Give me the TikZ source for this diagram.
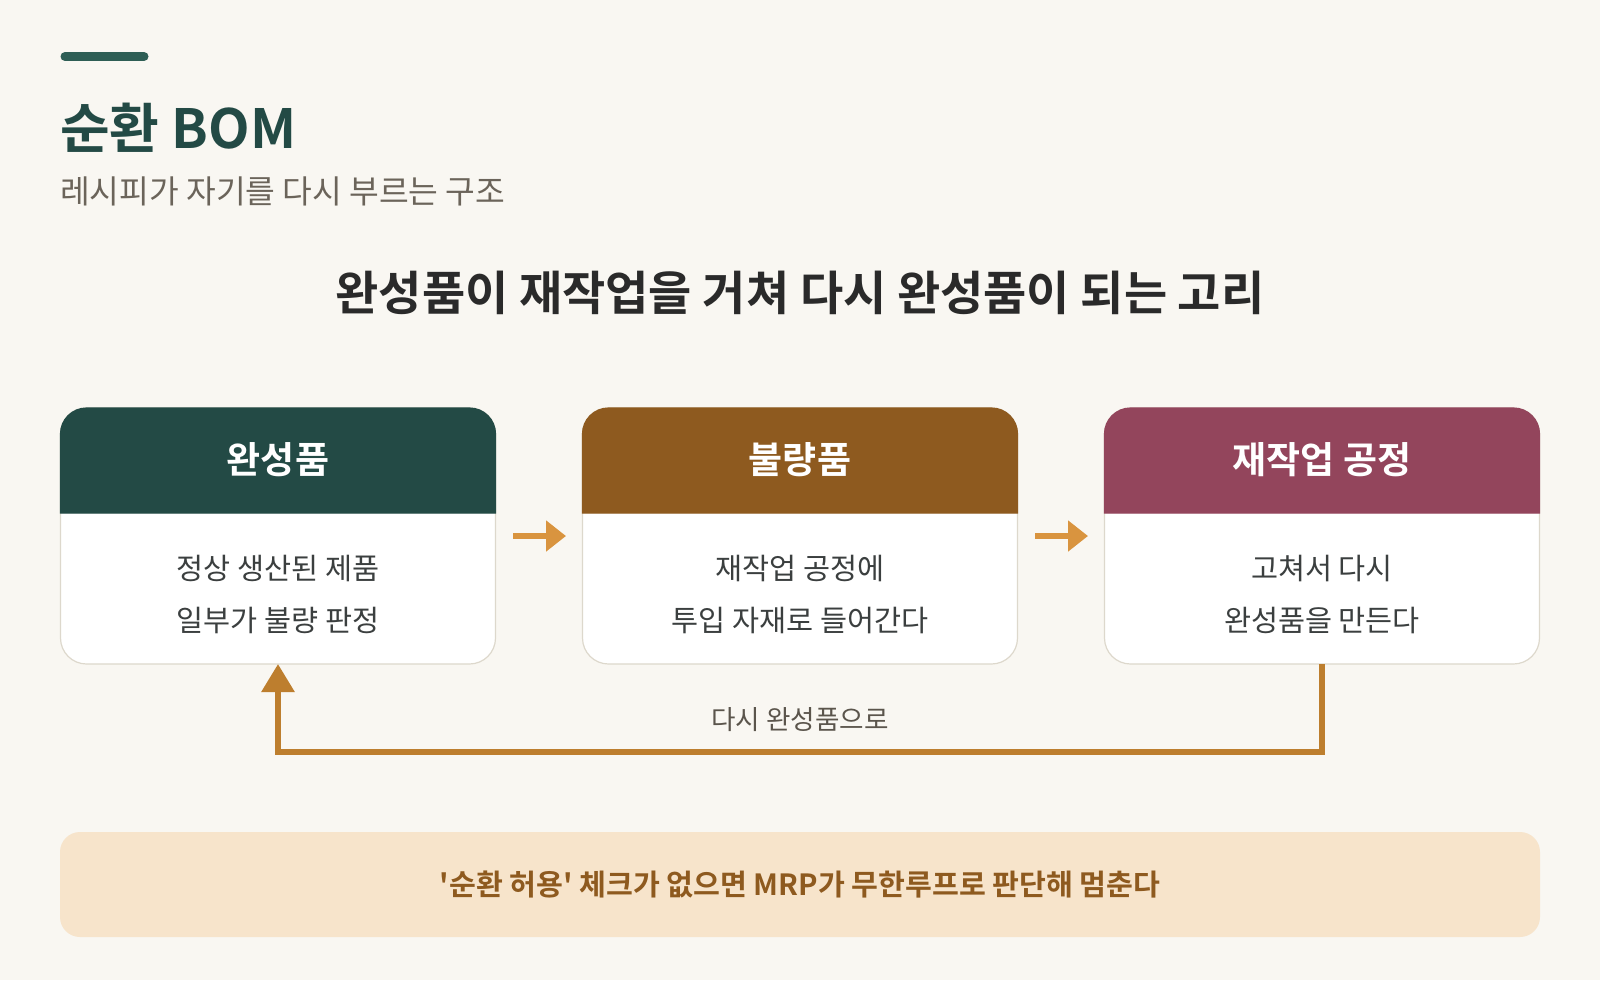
\documentclass[tikz,border=0pt]{standalone}
\usepackage{fontspec}
\setmainfont{Noto Sans CJK KR}[BoldFont={Noto Sans CJK KR Bold}]
\usetikzlibrary{arrows.meta, positioning, calc, backgrounds}

\definecolor{paper}{HTML}{F9F7F2}
\definecolor{pine}{HTML}{234A45}
\definecolor{pinebar}{HTML}{2E5E55}
\definecolor{rust}{HTML}{8E5A1F}
\definecolor{plum}{HTML}{93455C}
\definecolor{ink}{HTML}{2A2A2A}
\definecolor{graytext}{HTML}{6B645A}
\definecolor{bodytext}{HTML}{3B3F3F}
\definecolor{cardline}{HTML}{DDD8CC}
\definecolor{flow}{HTML}{D9943F}
\definecolor{backline}{HTML}{BD7E2E}
\definecolor{warnfill}{HTML}{F7E4CB}

% straight apostrophe, no tex-text mapping
\newcommand\sq{\XeTeXglyph\XeTeXcharglyph"0027\relax}

\begin{document}
\begin{tikzpicture} [
    x=1pt, y=-1pt,
    node distance=87pt,
    card/.style={rectangle, draw=cardline, line width=1.2pt, fill=white, rounded corners=26pt, minimum width=435pt, minimum height=256pt, inner sep=0pt, outer sep=0pt},
    head/.style={font=\fontsize{37}{44}\selectfont\bfseries, text=white},
    body/.style={font=\fontsize{29.4}{52}\selectfont, text=bodytext, align=center},
    arrow/.style={-{Triangle[length=20pt, width=30pt]}, line width=6pt, flow, shorten <=17.5pt, shorten >=16.5pt},
    backflow/.style={-{Triangle[length=28pt, width=32pt]}, line width=6pt, backline},
    note/.style={font=\fontsize{26.6}{30}\selectfont, text=graytext!85!black}
]

% page and margins
\fill[paper] (0,0) rectangle (1600,980);
\useasboundingbox (0,0) rectangle (1600,980);

% title block
\draw[pinebar, line width=9pt, line cap=round] (65,56.5) -- (144,56.5);
\node[anchor=base west, inner sep=0pt, font=\fontsize{54}{62}\selectfont\bfseries, text=pine] (title) at (60,148) {순환 BOM};
\node[anchor=base west, inner sep=0pt, font=\fontsize{32.3}{38}\selectfont, text=graytext] (subtitle) at (60,203) {레시피가 자기를 다시 부르는 구조};
\node[font=\fontsize{47}{54}\selectfont\bfseries, text=ink] (heading) at (800,293) {완성품이 재작업을 거쳐 다시 완성품이 되는 고리};

% cards
\node[card] (done) at (278,536) {};
\node[card, right=of done] (bad) {};
\node[card, right=of bad] (rework) {};

% card headers
\filldraw[pine, line width=1.2pt] ($(done.north west)+(0,105)$) [rounded corners=26pt] -- (done.north west) -- (done.north east) [sharp corners] -- ($(done.north east)+(0,105)$) -- cycle;
\filldraw[rust, line width=1.2pt] ($(bad.north west)+(0,105)$) [rounded corners=26pt] -- (bad.north west) -- (bad.north east) [sharp corners] -- ($(bad.north east)+(0,105)$) -- cycle;
\filldraw[plum, line width=1.2pt] ($(rework.north west)+(0,105)$) [rounded corners=26pt] -- (rework.north west) -- (rework.north east) [sharp corners] -- ($(rework.north east)+(0,105)$) -- cycle;

\node[head] (done-t) at ($(done.north)+(0,52)$) {완성품};
\node[head] (bad-t) at ($(bad.north)+(0,52)$) {불량품};
\node[head] (rework-t) at ($(rework.north)+(0,52)$) {재작업 공정};

\node[body] (done-b) at ($(done.south)+(0,-70)$) {정상 생산된 제품\\일부가 불량 판정};
\node[body] (bad-b) at ($(bad.south)+(0,-70)$) {재작업 공정에\\투입 자재로 들어간다};
\node[body] (rework-b) at ($(rework.south)+(0,-70)$) {고쳐서 다시\\완성품을 만든다};

% flow arrows
\draw[arrow] (done) -- (bad);
\draw[arrow] (bad) -- (rework);

% loop back
\draw[backflow] (rework.south) -- ++(0,88) -| (done.south);
\node[note] (back) at (800,720) {다시 완성품으로};

% warning bar
\node[rectangle, fill=warnfill, rounded corners=20pt, minimum width=1480pt, minimum height=105pt, font=\fontsize{29.2}{34}\selectfont\bfseries, text=rust] (warn) at (800,884.5) {\sq 순환 허용\sq{} 체크가 없으면 MRP가 무한루프로 판단해 멈춘다};

\end{tikzpicture}
\end{document}
